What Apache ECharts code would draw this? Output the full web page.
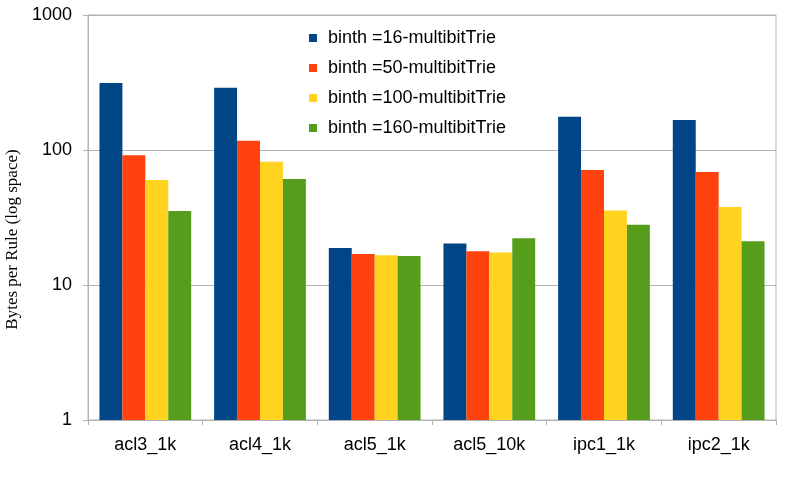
<!DOCTYPE html>
<html>
<head>
<meta charset="utf-8">
<script src="https://cdn.jsdelivr.net/npm/echarts@6/dist/echarts.min.js"></script>
<style>html,body{margin:0;padding:0;background:#fff;}#c{width:789px;height:484px;}</style>
</head>
<body>
<div id="c"></div>
<script>
var categories = ['acl3_1k', 'acl4_1k', 'acl5_1k', 'acl5_10k', 'ipc1_1k', 'ipc2_1k'];
var seriesNames = ['binth =16-multibitTrie', 'binth =50-multibitTrie', 'binth =100-multibitTrie', 'binth =160-multibitTrie'];
var binth16 = [313, 289, 18.8, 20.3, 176, 167];
var binth50 = [91.6, 117, 17.0, 17.8, 71.1, 68.7];
var binth100 = [60, 81.9, 16.6, 17.4, 35.6, 37.9];
var binth160 = [35.3, 61, 16.4, 22.2, 28.0, 21.1];
var colors = ['#004586', '#ff420e', '#ffd320', '#579d1c'];

var chart = echarts.init(document.getElementById('c'));
var allData = [binth16, binth50, binth100, binth160];
chart.setOption({
  animation: false,
  color: colors,
  grid: { left: 88, right: 13, top: 15, bottom: 64, containLabel: false, outerBoundsMode: 'none',
    show: true, borderColor: '#b3b3b3', borderWidth: 1 },
  legend: {
    orient: 'vertical', left: 304, top: 23, itemWidth: 8, itemHeight: 8, itemGap: 10,
    icon: 'rect',
    textStyle: { fontFamily: 'Liberation Sans', fontSize: 18, color: '#000', lineHeight: 20, padding: [0, 0, 0, 6] },
    data: seriesNames
  },
  xAxis: {
    type: 'category', data: categories,
    axisLine: { lineStyle: { color: '#b3b3b3' } },
    axisTick: { show: true, length: 5, lineStyle: { color: '#b3b3b3' } },
    axisLabel: { color: '#000', fontFamily: 'Liberation Sans', fontSize: 18, margin: 16 }
  },
  yAxis: {
    type: 'log', logBase: 10, min: 1, max: 1000,
    name: 'Bytes per Rule (log space)', nameLocation: 'middle', nameGap: 63,
    nameTextStyle: { fontFamily: 'Liberation Serif', fontSize: 17, color: '#000', padding: [0, 44, 0, 0] },
    axisLine: { show: true, lineStyle: { color: '#b3b3b3' } },
    axisTick: { show: true, length: 5, lineStyle: { color: '#b3b3b3' } },
    minorTick: { show: false },
    splitLine: { show: true, lineStyle: { color: '#b3b3b3' } },
    axisLabel: { color: '#000', fontFamily: 'Liberation Sans', fontSize: 18, margin: 16,
      formatter: function (v) { return String(Math.round(v)); } }
  },
  series: seriesNames.map(function (n, i) {
    return { name: n, type: 'bar', data: allData[i], barGap: '0%', barCategoryGap: '20%' };
  })
});
</script>
</body>
</html>
